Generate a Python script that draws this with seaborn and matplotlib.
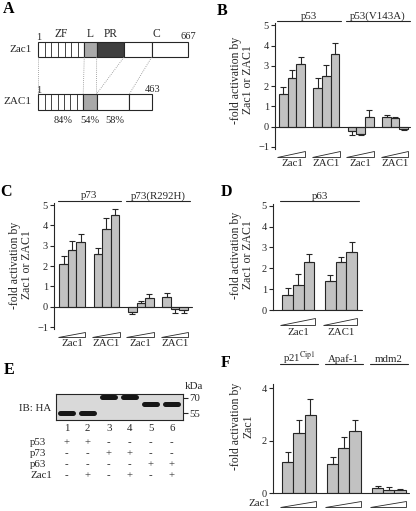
import numpy as np
import pandas as pd
import matplotlib
matplotlib.use("Agg")
import matplotlib.pyplot as plt
import matplotlib.transforms as mtransforms
from matplotlib.patches import Rectangle, Polygon
from matplotlib.ticker import NullLocator
import seaborn as sns

sns.set_theme(style="ticks")
plt.rcParams['font.family'] = ['Liberation Serif', 'DejaVu Serif']
plt.rcParams['mathtext.fontset'] = 'stix'

W, H = 416, 511
INK = '#262626'
BAR = '#c2c2c2'

# ---------------- data ----------------
dose = ["low", "mid", "high"]

# A: domain boundaries (amino acids)
zac1_len, ZAC1_len = 667, 463
zac1_bounds = [1, 205, 260, 381, 504, 667]   # ZF | L | PR | - | C
ZAC1_bounds = [1, 183, 237, 370, 463]        # ZF | L | - | C
n_fingers = 7
identity = ["84%", "54%", "58%"]

# B
b_groups = ["p53 Zac1", "p53 ZAC1", "V143A Zac1", "V143A ZAC1"]
b_vals = [[1.6, 2.4, 3.1], [1.9, 2.5, 3.6], [-0.2, -0.36, 0.46], [0.5, 0.41, -0.13]]
b_errs = [[0.35, 0.4, 0.35], [0.5, 0.55, 0.5], [0.2, 0.06, 0.38], [0.1, 0.08, 0.05]]
b_under = ["Zac1", "ZAC1", "Zac1", "ZAC1"]
b_over = [("p53", 0, 1), ("p53(V143A)", 2, 3)]

# C
c_groups = ["p73 Zac1", "p73 ZAC1", "R292H Zac1", "R292H ZAC1"]
c_vals = [[2.1, 2.8, 3.2], [2.6, 3.8, 4.5], [-0.25, 0.16, 0.41], [0.5, -0.13, -0.16]]
c_errs = [[0.37, 0.45, 0.4], [0.27, 0.54, 0.3], [0.13, 0.12, 0.21], [0.19, 0.18, 0.17]]
c_under = ["Zac1", "ZAC1", "Zac1", "ZAC1"]
c_over = [("p73", 0, 1), ("p73(R292H)", 2, 3)]

# D
d_groups = ["p63 Zac1", "p63 ZAC1"]
d_vals = [[0.72, 1.2, 2.28], [1.4, 2.28, 2.8]]
d_errs = [[0.35, 0.51, 0.42], [0.26, 0.28, 0.47]]
d_under = ["Zac1", "ZAC1"]
d_over = [("p63", 0, 1)]

# E: western blot
lanes = [1, 2, 3, 4, 5, 6]
e_rows = ["p53", "p73", "p63", "Zac1"]
e_signs = [["+", "+", "-", "-", "-", "-"],
           ["-", "-", "+", "+", "-", "-"],
           ["-", "-", "-", "-", "+", "+"],
           ["-", "+", "-", "+", "-", "+"]]
band_kda = {"p53": 55.5, "p73": 70.5, "p63": 63}
markers_kda = [55, 70]

# F
f_groups = ["p21", "Apaf-1", "mdm2"]
f_vals = [[1.21, 2.31, 3.0], [1.1, 1.71, 2.36], [0.22, 0.13, 0.11]]
f_errs = [[0.35, 0.5, 0.6], [0.3, 0.45, 0.44], [0.05, 0.1, 0.07]]
f_over = [(r"p21$^{\mathrm{Cip1}}$", 0, 0), ("Apaf-1", 1, 1), ("mdm2", 2, 2)]

# ---------------- figure ----------------
fig = plt.figure(figsize=(W / 100, H / 100), dpi=100)
ov = fig.add_axes([0, 0, 1, 1])
ov.set_xlim(0, W)
ov.set_ylim(H, 0)
ov.axis('off')


def px_axes(left, top, right, bottom):
    return fig.add_axes([left / W, 1 - bottom / H, (right - left) / W, (bottom - top) / H])


def panel_letter(x, y, s):
    ov.text(x, y, s, fontsize=11.5, fontweight='bold', ha='center', va='center', color='black')


def bar_panel(box, xlim, ylim, yticks, groups, vals, errs, ylabel, ylab_px,
              over, over_y, under, wedge_y, under_y):
    ax = px_axes(*box)
    df = pd.DataFrame({"group": np.repeat(groups, 3),
                       "dose": dose * len(groups),
                       "value": np.ravel(vals)})
    sns.barplot(data=df, x="group", y="value", hue="dose", order=groups, hue_order=dose,
                palette=[BAR] * 3, width=0.75, saturation=1, edgecolor=INK, linewidth=0.8,
                errorbar=None, legend=False, ax=ax)
    bar_conts = list(ax.containers)
    for j, cont in enumerate(bar_conts):
        for i, bar in enumerate(cont.patches):
            h = bar.get_height()
            xc = bar.get_x() + bar.get_width() / 2
            e = errs[i][j]
            yerr = [[0], [e]] if h >= 0 else [[e], [0]]
            ax.errorbar(xc, h, yerr=yerr, fmt='none', ecolor=INK, elinewidth=0.8,
                        capsize=2.2, capthick=0.8, zorder=1)
    ax.set_xlim(*xlim)
    ax.set_ylim(*ylim)
    ax.set_yticks(yticks)
    ax.set_xticks([])
    ax.set_xlabel('')
    sns.despine(ax=ax, bottom=True)
    ax.spines['left'].set_color(INK)
    ax.spines['left'].set_linewidth(0.8)
    ax.axhline(0, color=INK, lw=0.8, clip_on=False, zorder=5)
    ax.tick_params(axis='y', length=3, width=0.8, color=INK, labelsize=7.5, pad=1.5,
                   labelcolor=INK)
    ax.patch.set_alpha(0)
    ax.set_ylabel(ylabel, fontsize=8.5, linespacing=1.05, color=INK)
    ax.yaxis.set_label_coords((ylab_px[0] - box[0]) / (box[2] - box[0]),
                              (box[3] - ylab_px[1]) / (box[3] - box[1]))

    tr = mtransforms.blended_transform_factory(ax.transData, ov.transData)
    for txt, g0, g1 in over:
        ax.plot([g0 - 0.42, g1 + 0.42], [over_y, over_y], transform=tr, color=INK,
                lw=0.8, clip_on=False)
        ax.text((g0 + g1) / 2, over_y - 2.2, txt, transform=tr, ha='center',
                va='baseline', fontsize=7.8, color=INK)
    for g in range(len(groups)):
        tri = Polygon([[g - 0.42, wedge_y[1]], [g + 0.385, wedge_y[1]], [g + 0.385, wedge_y[0]]],
                      closed=True, facecolor='white', edgecolor=INK, lw=0.6,
                      transform=tr, clip_on=False)
        ax.add_patch(tri)
        if under is not None:
            ax.text(g, under_y, under[g], transform=tr, ha='center', va='baseline',
                    fontsize=7.8, color=INK)
    return ax


# ---------------- A ----------------
panel_letter(8.3, 9.2, "A")


def draw_protein(bounds, length, x0, x1, y0, y1, fills):
    sc = (x1 - x0) / (length - 1)
    xs = [x0 + (b - 1) * sc for b in bounds]
    for k in range(len(xs) - 1):
        ov.add_patch(Rectangle((xs[k], y0), xs[k + 1] - xs[k], y1 - y0,
                               facecolor=fills[k], edgecolor=INK, lw=0.8))
    step = (xs[1] - xs[0]) / n_fingers
    for f in range(1, n_fingers):
        ov.plot([xs[0] + f * step] * 2, [y0, y1], color=INK, lw=0.6)
    return xs


zx = draw_protein(zac1_bounds, zac1_len, 38.3, 188.3, 41.7, 57.3,
                  ['white', '#a9a9a9', '#3f3f3f', 'white', 'white'])
hx = draw_protein(ZAC1_bounds, ZAC1_len, 38.3, 152.3, 94, 110,
                  ['white', '#a9a9a9', 'white', 'white'])
for a, b in zip([zx[0], zx[1], zx[2], zx[3], zx[4]], [hx[0], hx[1], hx[2], hx[2], hx[3]]):
    ov.plot([a, b], [57.3, 94], color='#8a8a8a', lw=0.6, ls=(0, (1, 1.5)))

ov.text(31.5, 49.5, "Zac1", fontsize=8, ha='right', va='center', color=INK)
ov.text(31.5, 102, "ZAC1", fontsize=8, ha='right', va='center', color=INK)
ov.text(zx[0], 40, "1", fontsize=7.5, ha='center', va='baseline', color=INK)
ov.text(zx[-1], 39.3, str(zac1_len), fontsize=7.5, ha='center', va='baseline', color=INK)
ov.text(hx[0], 92.7, "1", fontsize=7.5, ha='center', va='baseline', color=INK)
ov.text(hx[-1], 91.7, str(ZAC1_len), fontsize=7.5, ha='center', va='baseline', color=INK)
for s, xc in zip(["ZF", "L", "PR"], [(zx[0] + zx[1]) / 2, (zx[1] + zx[2]) / 2, (zx[2] + zx[3]) / 2]):
    ov.text(xc, 36.7, s, fontsize=8.3, ha='center', va='baseline', color=INK)
ov.text(zx[4] + 5, 36.7, "C", fontsize=8.3, ha='center', va='baseline', color=INK)
for s, xc in zip(identity, [(hx[0] + hx[1]) / 2 + 2, (hx[1] + hx[2]) / 2, (hx[2] + hx[3]) / 2 + 2]):
    ov.text(xc, 122.7, s, fontsize=7.5, ha='center', va='baseline', color=INK)

# ---------------- B ----------------
panel_letter(221.7, 11.3, "B")
bar_panel((275.3, 23.2, 409.9, 149.0), (-0.483, 3.43), (-1.1, 5.1), range(-1, 6),
          b_groups, b_vals, b_errs, "-fold activation by\nZac1 or ZAC1", (254, 80),
          b_over, 21.3, b_under, (150.7, 156.7), 166.5)

# ---------------- C ----------------
panel_letter(6, 191.7, "C")
bar_panel((54.3, 203.0, 191.7, 329.1), (-0.521, 3.483), (-1.1, 5.1), range(-1, 6),
          c_groups, c_vals, c_errs, "-fold activation by\nZac1 or ZAC1", (33, 265),
          c_over, 200.7, c_under, (331.7, 337.3), 346.5)

# ---------------- D ----------------
panel_letter(226.3, 192, "D")
bar_panel((273.3, 203.7, 361.7, 310.0), (-0.586, 1.485), (0, 5.1), range(0, 6),
          d_groups, d_vals, d_errs, "-fold activation by\nZac1 or ZAC1", (254.3, 255),
          d_over, 201, d_under, (318.3, 325), 335)

# ---------------- F ----------------
panel_letter(226, 363.3, "F")
bar_panel((273.3, 384.4, 408.5, 493.3), (-0.573, 2.44), (0, 4.15), [0, 2, 4],
          f_groups, f_vals, f_errs, "-fold activation by\nZac1", (254.3, 426),
          f_over, 364, None, (501, 506.7), None)
ov.text(270.7, 506.5, "Zac1", fontsize=7.8, ha='right', va='baseline', color=INK)

# ---------------- E ----------------
panel_letter(9.5, 370, "E")
ax_e = px_axes(56, 394, 182.7, 419.5)
ax_e.set_facecolor('#d9d9d9')
ax_e.set_yscale('log')
ax_e.set_xlim(0.49, 6.52)
ax_e.set_ylim(50, 74)
for lane in lanes:
    prot = [r for r, row in zip(e_rows[:3], e_signs[:3]) if row[lane - 1] == "+"][0]
    ax_e.plot([lane - 0.3, lane + 0.3], [band_kda[prot]] * 2, lw=3.6, color='#161616',
              solid_capstyle='round')
ax_e.set_xticks(lanes)
ax_e.set_xticklabels([str(l) for l in lanes])
ax_e.yaxis.tick_right()
ax_e.set_yticks(markers_kda)
ax_e.set_yticklabels([str(m) for m in markers_kda])
ax_e.yaxis.set_minor_locator(NullLocator())
ax_e.tick_params(axis='x', length=0, pad=3, labelsize=7.8, labelcolor=INK)
ax_e.tick_params(axis='y', length=3.5, width=0.8, color=INK, pad=1.5, labelsize=7.8,
                 labelcolor=INK)
for sp in ax_e.spines.values():
    sp.set_visible(True)
    sp.set_color(INK)
    sp.set_linewidth(0.8)
ov.text(185, 386.7, "kDa", fontsize=7.8, ha='left', va='center', color=INK)
ov.text(51.7, 408.3, "IB: HA", fontsize=7.8, ha='right', va='center', color=INK)

tr_e = mtransforms.blended_transform_factory(ax_e.transData, ov.transData)
for r, (name, row) in enumerate(zip(e_rows, e_signs)):
    yy = 442.3 + r * 11.1
    ov.text(30, yy, name, fontsize=7.8, ha='left', va='center', color=INK)
    for lane, s in zip(lanes, row):
        ax_e.text(lane, yy, s, transform=tr_e, ha='center', va='center', fontsize=7.8,
                  color=INK, clip_on=False)

fig.savefig("out.png", dpi=100)
